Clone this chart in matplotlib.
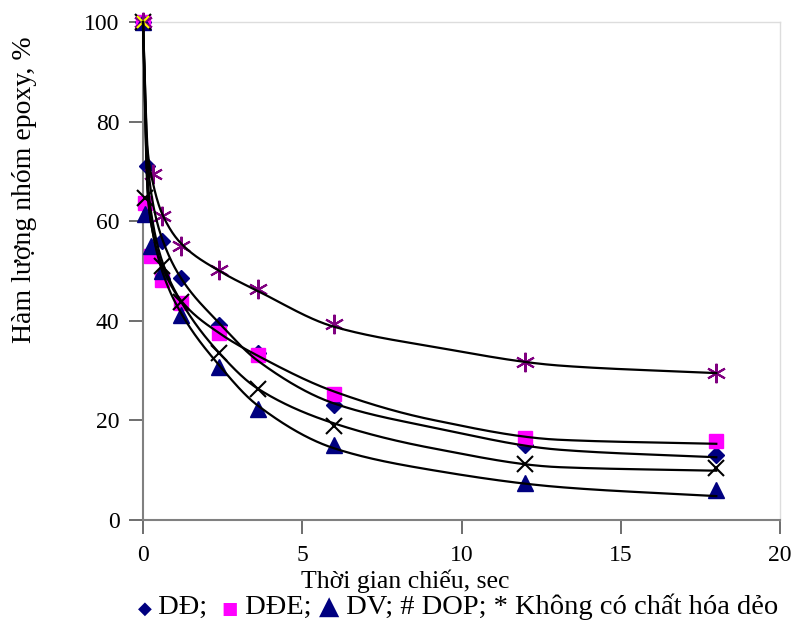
import numpy as np
import matplotlib.pyplot as plt
from matplotlib.offsetbox import TextArea, HPacker, AnchoredOffsetbox

plt.rcParams['font.family'] = ['Liberation Serif', 'DejaVu Sans']

# Measured points (time, % epoxy group)
x_dd = [0, 0.12, 0.6, 1.2, 2.4, 3.6, 6, 12, 18]
y_dd = [100, 71, 56, 48.5, 39.2, 33.5, 23.1, 15.1, 13.1]
x_dde = [0, 0.06, 0.24, 0.6, 1.2, 2.4, 3.6, 6, 12, 18]
y_dde = [100, 63.6, 53, 48.2, 43.5, 37.5, 33.1, 25.4, 16.4, 15.9]
x_dv = [0, 0.06, 0.24, 0.6, 1.2, 2.4, 3.6, 6, 12, 18]
y_dv = [100, 61.5, 55, 50, 41.2, 30.8, 22.2, 15.1, 7.4, 6.0]
x_dop = [0, 0.06, 0.6, 1.2, 2.4, 3.6, 6, 12, 18]
y_dop = [100, 64.6, 51, 43.8, 33.5, 26.4, 18.8, 11.3, 10.4]
x_none = [0, 0.3, 0.6, 1.2, 2.4, 3.6, 6, 12, 18]
y_none = [100, 69.5, 61, 55, 50.2, 46.4, 39.4, 31.8, 29.6]

# Trend curves
cx = [0, 0.15, 0.3, 0.6, 1.2, 2.4, 3.6, 6, 9.1, 13.1, 18]
c_none = [100, 74, 68, 61.5, 55.5, 50, 46, 38.8, 34.8, 31.0, 29.5]
c_dde = [100, 66, 58, 51, 44, 37.5, 33.0, 25.8, 20.1, 16.1, 15.3]
c_dd = [100, 72, 64, 56.5, 48.5, 39.5, 32.0, 23.4, 18.6, 14.1, 12.6]
c_dop = [100, 68, 60, 52, 43.8, 33.5, 26.4, 19.4, 14.4, 10.6, 9.9]
c_dv = [100, 65, 58, 50, 41.5, 31, 23.0, 14.4, 10.0, 6.6, 4.8]


def pchip(x, y, xs):
    x = np.asarray(x, float)
    y = np.asarray(y, float)
    h = np.diff(x)
    d = np.diff(y) / h
    m = np.zeros_like(y)
    for k in range(1, len(x) - 1):
        if d[k - 1] * d[k] > 0:
            w1 = 2 * h[k] + h[k - 1]
            w2 = h[k] + 2 * h[k - 1]
            m[k] = (w1 + w2) / (w1 / d[k - 1] + w2 / d[k])
    m[0] = d[0]
    m[-1] = d[-1]
    i = np.clip(np.searchsorted(x, xs) - 1, 0, len(h) - 1)
    t = (xs - x[i]) / h[i]
    return ((2 * t**3 - 3 * t**2 + 1) * y[i] + (t**3 - 2 * t**2 + t) * h[i] * m[i]
            + (-2 * t**3 + 3 * t**2) * y[i + 1] + (t**3 - t**2) * h[i] * m[i + 1])


navy = '#000080'
magenta = '#FF00FF'
purple = '#800080'

fig = plt.figure(figsize=(8.02, 6.31), dpi=100)
ax = fig.add_axes([143 / 802, 1 - 520 / 631, 637 / 802, 498 / 631])

xs = np.linspace(0, 18, 800)
for c in [c_none, c_dde, c_dd, c_dop, c_dv]:
    ax.plot(xs, pchip(cx, c, xs), color='black', lw=1.6, zorder=4, clip_on=False)

ax.plot(x_dd, y_dd, 'D', color=navy, ms=8, zorder=3, clip_on=False)
ax.plot(x_dde, y_dde, 's', color=magenta, ms=9.5, zorder=3, clip_on=False)
ax.plot(x_dv, y_dv, '^', color=navy, ms=11, zorder=3, clip_on=False)
ax.plot(x_dop, y_dop, 'x', color='black', ms=11, mew=1.5, zorder=3, clip_on=False)
ax.plot(x_none, y_none, marker=(6, 2, 0), ls='none', color=purple, ms=14, mew=1.5,
        zorder=3, clip_on=False)
ax.plot([0], [100], 'x', color='yellow', ms=9, mew=1.5, zorder=3, clip_on=False)

ax.set_xlim(0, 20)
ax.set_ylim(0, 100)
ax.set_xticks([0, 5, 10, 15, 20])
ax.set_yticks([0, 20, 40, 60, 80, 100])
ax.tick_params(axis='both', direction='out', length=10, width=1.2, color='#555555',
               labelsize=17)
ax.tick_params(axis='y', pad=7)
ax.tick_params(axis='x', pad=8)
for s in ['left', 'bottom']:
    ax.spines[s].set_color('#808080')
    ax.spines[s].set_linewidth(1.5)
for s in ['top', 'right']:
    ax.spines[s].set_color('#dddddd')
    ax.spines[s].set_linewidth(1.0)

fig.text(25 / 802, 1 - 190 / 631, 'Hàm lượng nhóm epoxy, %', rotation=90,
         ha='center', va='center', fontsize=20)
fig.text(405 / 802, 1 - 581 / 631, 'Thời gian chiếu, sec', ha='center', va='center',
         fontsize=18.5)

# Legend line under the axis title
parts = [('◆', navy, 13), (' DĐ;  ', 'black', 20.5), ('■', magenta, 12.5),
         (' DĐE; ', 'black', 20.5), ('▲', navy, 19),
         (' DV; # DOP; * Không có chất hóa dẻo', 'black', 20.5)]
boxes = []
for txt, col, fs in parts:
    fam = ['DejaVu Sans'] if txt in '◆■▲' else ['Liberation Serif', 'DejaVu Sans']
    boxes.append(TextArea(txt, textprops=dict(color=col, fontsize=fs, family=fam)))
pack = HPacker(children=boxes, pad=0, sep=0, align='baseline')
leg = AnchoredOffsetbox(loc='center', child=pack, bbox_to_anchor=(458 / 802, 1 - 607 / 631),
                        bbox_transform=fig.transFigure, frameon=False, pad=0, borderpad=0)
fig.add_artist(leg)

fig.savefig('out.png', dpi=100)
